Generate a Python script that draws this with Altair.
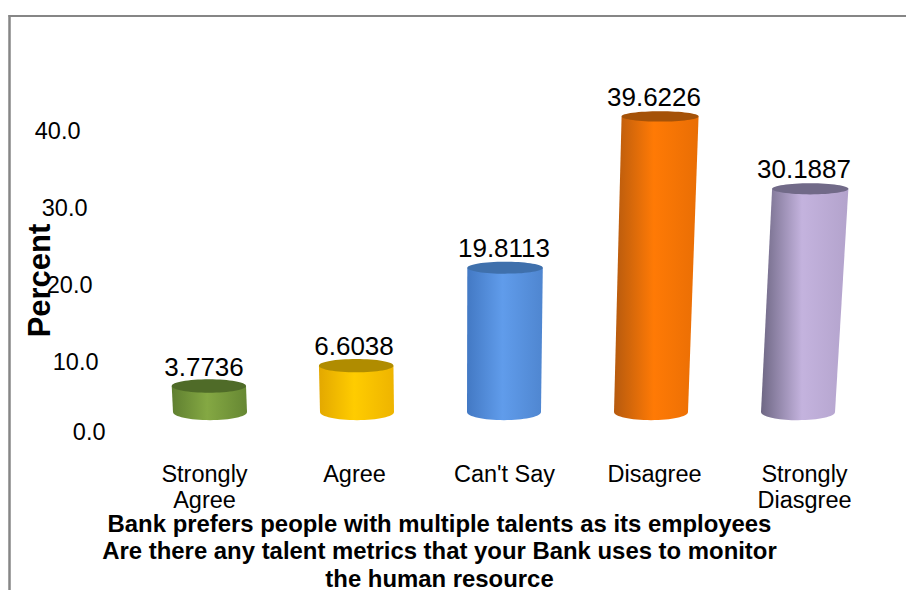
import json
import altair as alt
import pandas as pd

categories = ["Strongly Agree", "Agree", "Can't Say", "Disagree", "Strongly Diasgree"]
category_lines = [["Strongly", "Agree"], ["Agree"], ["Can't Say"], ["Disagree"], ["Strongly", "Diasgree"]]
percent = [3.7736, 6.6038, 19.8113, 39.6226, 30.1887]
value_labels = ["3.7736", "6.6038", "19.8113", "39.6226", "30.1887"]
axis_ticks = [0, 10, 20, 30, 40]
title_lines = [
    "Bank prefers people with multiple talents as its employees",
    "Are there any talent metrics that your Bank uses to monitor",
    "the human resource",
]
# left edge, highlight, right edge, top cap
palette = [
    ("#5f7f30", "#84a843", "#668733", "#4f6b28"),
    ("#e3a800", "#ffcc00", "#eeb400", "#b08c00"),
    ("#4379c4", "#609ceb", "#4f86d0", "#3f70ac"),
    ("#b65a0e", "#ff7a05", "#e96e05", "#a55208"),
    ("#6e6784", "#c4b3de", "#b3a3cc", "#716a88"),
]

FONT = "Liberation Sans"
X_SCALE = alt.Scale(domain=[-1.36, 4.68], range=[0, 906], nice=False, zero=False)
BAR_Y = alt.Scale(type="pow", exponent=1.034, domain=[0, 50], range=[412, 36], nice=False)
TICK_Y = alt.Scale(domain=[0, 40], range=[439, 131], nice=False)
ELLIPSE = "M-1,0A1,{r},0,1,1,1,0A1,{r},0,1,1,-1,0Z"


def shaded(left, mid, right, x1=0.0, x2=1.0):
    return alt.Gradient(
        gradient="linear", x1=x1, x2=x2, y1=0, y2=0,
        stops=[
            alt.GradientStop(color=left, offset=0),
            alt.GradientStop(color=mid, offset=0.47),
            alt.GradientStop(color=right, offset=1),
        ],
    )


def column(i):
    # Perspective: columns fan out from the centre of the floor and lean away from it.
    base = 2 + 0.98 * (i - 2)
    lean = 0.0012 * (504 + 147 * (i - 2) - 460) / 150
    v = percent[i]
    half_base = 37.0 / 150
    half_top = (37.0 + 1.5 * v / 40) / 150
    top = base + lean * v
    body = pd.DataFrame({
        "v": [0.0, v],
        "left": [base - half_base, top - half_top],
        "right": [base + half_base, top + half_top],
    })
    left, mid, right, cap = palette[i]
    # The wall's box is wider than its foot when it leans; carry the same
    # absolute shading over to the foot so the two meet without a seam.
    box_l = min(base - half_base, top - half_top)
    box_r = max(base + half_base, top + half_top)
    foot_l = base - half_base
    foot_w = 2 * half_base
    foot_grad = shaded(left, mid, right, (box_l - foot_l) / foot_w, (box_r - foot_l) / foot_w)
    no_x = alt.X("x:Q", scale=X_SCALE, axis=None)
    no_y = alt.Y("v:Q", scale=BAR_Y, axis=None)
    foot = alt.Chart(pd.DataFrame({"x": [base], "v": [0.0]})).mark_point(
        shape=ELLIPSE.format(r=0.22), size=(2 * 37.0) ** 2, filled=True, fill=foot_grad, opacity=1, strokeWidth=0
    ).encode(x=no_x, y=no_y)
    wall = alt.Chart(body).mark_area(orient="horizontal", fill=shaded(left, mid, right), opacity=1).encode(
        x=alt.X("left:Q", scale=X_SCALE, axis=None),
        x2="right:Q",
        y=no_y,
    )
    lid = alt.Chart(pd.DataFrame({"x": [top], "v": [v]})).mark_point(
        shape=ELLIPSE.format(r=round(0.185 - 0.0013 * v, 3)),
        size=(2 * (37.0 + 1.5 * v / 40)) ** 2,
        filled=True, fill=cap, opacity=1, strokeWidth=0,
    ).encode(x=no_x, y=no_y)
    return [foot, wall, lid]


# Carries both visible axes; the marks themselves stay invisible.
axis_frame = pd.DataFrame({"x": list(range(5)), "tick": axis_ticks})
axes = alt.Chart(axis_frame).mark_point(opacity=0).encode(
    x=alt.X(
        "x:Q",
        scale=X_SCALE,
        axis=alt.Axis(
            values=list(range(5)),
            orient="bottom",
            offset=-128,
            domain=False,
            ticks=False,
            grid=False,
            labelPadding=0,
            labelFont=FONT,
            labelFontSize=23.5,
            labelColor="#000000",
            labelLineHeight=26,
            labelOverlap=False,
            labelFlush=False,
            labelBaseline="top",
            labelExpr=json.dumps(category_lines) + "[datum.value]",
            title=title_lines,
            titleFont=FONT,
            titleFontSize=23.9,
            titleFontWeight="bold",
            titleColor="#000000",
            titleLineHeight=27.5,
            titleX=439,
            titleY=62,
            titleAlign="center",
            titleBaseline="middle",
        ),
    ),
    y=alt.Y(
        "tick:Q",
        scale=TICK_Y,
        axis=alt.Axis(
            values=axis_ticks,
            orient="left",
            offset=-110,
            domain=False,
            ticks=False,
            grid=False,
            format=".1f",
            labelFont=FONT,
            labelFontSize=23.5,
            labelColor="#000000",
            labelOverlap=False,
            labelFlush=False,
            labelOffset={"condition": {"test": "datum.value === 0", "value": -7}, "value": 0},
            labelPadding={
                "condition": [
                    {"test": "datum.value === 10", "value": 12},
                    {"test": "datum.value === 20", "value": 18},
                    {"test": "datum.value === 30", "value": 23},
                    {"test": "datum.value === 40", "value": 30},
                ],
                "value": 5,
            },
            title="Percent",
            titleFont=FONT,
            titleFontSize=31,
            titleFontWeight="bold",
            titleColor="#000000",
            titleX=-70,
            titleY=280,
            titleAngle=270,
            titleAlign="center",
            titleBaseline="middle",
        ),
    ),
)

labels = alt.Chart(
    pd.DataFrame({"x": list(range(5)), "v": percent, "label": value_labels})
).mark_text(font=FONT, fontSize=26, color="#000000", baseline="middle", dy=-18.5).encode(
    x=alt.X("x:Q", scale=X_SCALE, axis=None),
    y=alt.Y("v:Q", scale=BAR_Y, axis=None),
    text="label:N",
)

# Frame of the chart area: left and top edges only.
frame_src = pd.DataFrame({"a": [0]})
frame_left = alt.Chart(frame_src).mark_rule(color="#868686", strokeWidth=2.5).encode(
    x=alt.value(9.5), y=alt.value(15), y2=alt.value(590)
)
frame_top = alt.Chart(frame_src).mark_rule(color="#868686", strokeWidth=2).encode(
    x=alt.value(8.5), x2=alt.value(906), y=alt.value(16)
)

layers = [frame_left, frame_top, axes]
for i in range(len(categories)):
    layers.extend(column(i))
layers.append(labels)

chart = (
    alt.layer(*layers)
    .resolve_scale(y="independent")
    .resolve_axis(x="independent")
    .properties(width=906, height=590, padding=0, autosize=alt.AutoSizeParams(type="none"), background="#ffffff")
    .configure_view(stroke=None)
)

chart.save("out.html", embed_options={"renderer": "svg", "actions": False})
